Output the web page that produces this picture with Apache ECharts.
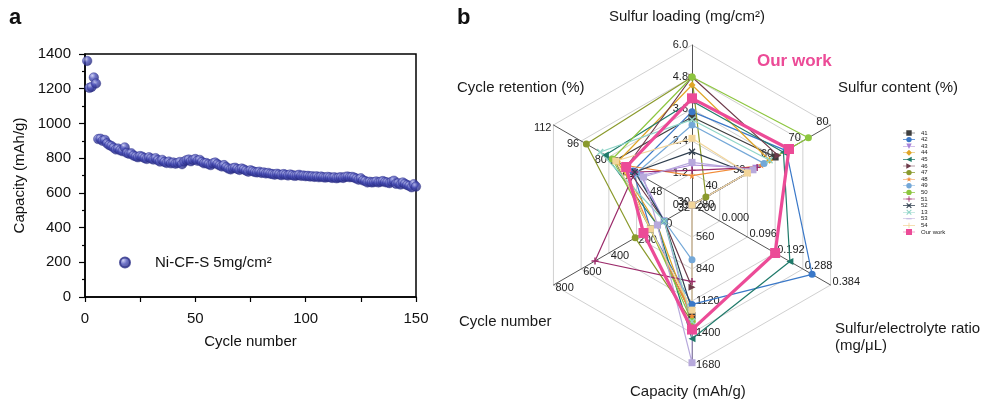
<!DOCTYPE html>
<html>
<head>
<meta charset="utf-8">
<script src="https://cdn.jsdelivr.net/npm/echarts@6/dist/echarts.min.js"></script>
<style>
html,body{margin:0;padding:0;background:#fff;}
#chart{width:1000px;height:407px;}
</style>
</head>
<body>
<div id="chart"></div>
<script>
// ---------- Panel a: capacity vs cycle ----------
const capacityValues = [
  1360,1205,1210,1265,1230,
  910,912,900,905,885,
  875,870,860,850,855,
  845,840,862,830,825,
  828,815,810,805,812,
  808,800,795,805,798,
  792,800,788,780,790,
  778,772,780,770,775,
  768,772,778,765,780,
  788,792,782,790,795,
  785,790,778,770,772,
  765,760,770,775,765,
  758,752,760,748,740,
  735,742,745,738,732,
  740,735,728,722,730,
  725,720,718,722,715,
  718,712,715,710,708,
  705,710,706,702,708,
  704,700,706,702,698,
  700,704,698,700,696,
  698,694,696,692,695,
  690,694,690,688,692,
  690,686,690,684,688,
  690,686,692,694,690,
  692,688,682,676,684,
  672,668,660,664,660,
  662,666,660,664,668,
  662,660,656,664,670,
  652,656,648,660,652,
  645,640,632,650,636
];
const xTicks = [0, 50, 100, 150];
const yTicks = [0, 200, 400, 600, 800, 1000, 1200, 1400];
const scatterName = 'Ni-CF-S 5mg/cm²';

// ---------- Panel b: radar ----------
const seriesNames = ['41','42','43','44','45','46','47','48','49','50','51','52','13','53','54','Our work'];
const loading   = [3.3, 3.5, 1.5, 4.5, 3.9, 4.8, 4.8, 1.1, 3.0, 4.8, 1.3, 2.0, 3.2, 1.6, 2.5, 4.0];
const content   = [60, 64, 53, 58, 63, 61, 35, 55, 56, 72, 53.5, 50, 58, 52, 50, 65];
const ratio     = [null, 0.32, null, null, 0.243, null, null, null, null, null, null, null, null, null, null, 0.192];
const capacity  = [1250, 1150, 1350, 1280, 1450, 1000, 1300, 1250, 760, 1300, 950, 1200, 1300, 1660, 1200, 1370];
const cycles    = [100, 100, 0, 50, 50, 0, 210, 100, 0, 100, 500, 0, 0, 50, 100, 150];
const retention = [76.5, 66, 61.5, 75, 82, 70, 93, 72, 64, 78, 65, 65, 85, 60, 76, 70];
const seriesColors = ['#3d3d3d','#3a78c8','#a883d8','#e0a526','#1f7a6a','#6e3b4a','#8a9a2c','#f28c38',
                      '#74a8d8','#8dc63f','#9b2a6a','#2f3e4e','#8fd5c8','#b7a9dc','#f2d59a','#ec4b97'];
const seriesSymbols = [
  'rect','circle','path://M0,0 L10,0 L5,10 Z','diamond','path://M10,0 L10,10 L0,5 Z','path://M0,0 L10,5 L0,10 Z',
  'circle','path://M5,0 L6.2,3.6 L10,3.6 L7,5.9 L8.1,9.5 L5,7.3 L1.9,9.5 L3,5.9 L0,3.6 L3.8,3.6 Z',
  'circle','circle','path://M4,0 H6 V4 H10 V6 H6 V10 H4 V6 H0 V4 H4 Z',
  'path://M1.4,0 L5,3.6 L8.6,0 L10,1.4 L6.4,5 L10,8.6 L8.6,10 L5,6.4 L1.4,10 L0,8.6 L3.6,5 L0,1.4 Z',
  'path://M1.4,0 L5,3.6 L8.6,0 L10,1.4 L6.4,5 L10,8.6 L8.6,10 L5,6.4 L1.4,10 L0,8.6 L3.6,5 L0,1.4 Z',
  'path://M0,4 H10 V6 H0 Z','path://M4,0 H6 V10 H4 Z','rect'
];
// legend icons: a short line with the marker in its middle
const legendMarks = [
  'M5.5,0.5 H14.5 V9.5 H5.5 Z',
  'M14.5,5 A4.5,4.5 0 1 1 5.5,5 A4.5,4.5 0 1 1 14.5,5 Z',
  'M5.5,0.5 H14.5 L10,9.5 Z',
  'M10,0 L15,5 L10,10 L5,5 Z',
  'M14.5,0.5 V9.5 L5.5,5 Z',
  'M5.5,0.5 L14.5,5 L5.5,9.5 Z',
  'M14.5,5 A4.5,4.5 0 1 1 5.5,5 A4.5,4.5 0 1 1 14.5,5 Z',
  'M10,0.5 L11.08,3.74 L14.5,3.74 L11.8,5.81 L12.79,9.05 L10,7.07 L7.21,9.05 L8.2,5.81 L5.5,3.74 L8.92,3.74 Z',
  'M14.5,5 A4.5,4.5 0 1 1 5.5,5 A4.5,4.5 0 1 1 14.5,5 Z',
  'M14.5,5 A4.5,4.5 0 1 1 5.5,5 A4.5,4.5 0 1 1 14.5,5 Z',
  'M9.3,0.5 H10.7 V4.3 H14.5 V5.7 H10.7 V9.5 H9.3 V5.7 H5.5 V4.3 H9.3 Z',
  'M6.76,0.5 L10,3.74 L13.24,0.5 L14.5,1.76 L11.26,5 L14.5,8.24 L13.24,9.5 L10,6.26 L6.76,9.5 L5.5,8.24 L8.74,5 L5.5,1.76 Z',
  'M6.76,0.5 L10,3.74 L13.24,0.5 L14.5,1.76 L11.26,5 L14.5,8.24 L13.24,9.5 L10,6.26 L6.76,9.5 L5.5,8.24 L8.74,5 L5.5,1.76 Z',
  'M5.5,4.1 H14.5 V5.9 H5.5 Z',
  'M9.3,0.5 H10.7 V9.5 H9.3 Z',
  'M5,0 H15 V10 H5 Z'
];
const legendFrame = 'M0,0 L0.01,0 L0,0.01 Z M20,10 L19.99,10 L20,9.99 Z ';

// indicator definitions (ECharts places them counter-clockwise from the top)
const indicatorNames = ['Sulfur loading (mg/cm²)','Cycle retention (%)','Cycle number','Capacity (mAh/g)','Sulfur/electrolyte ratio (mg/μL)','Sulfur content (%)'];
const indicatorMin = [0, 32, -200, 280, -0.096, 30];
const indicatorMax = [6, 112, 800, 1680, 0.384, 80];
const indicatorDecimals = [1, 0, 0, 0, 3, 0];

const FONT = 'Liberation Sans, Arial, sans-serif';
const chart = echarts.init(document.getElementById('chart'));

const sphere = new echarts.graphic.RadialGradient(0.35, 0.32, 0.7, [
  {offset: 0, color: '#c3c6f2'},
  {offset: 0.45, color: '#4a50b8'},
  {offset: 1, color: '#23277a'}
]);

const radarSeries = seriesNames.map((name, i) => {
  const isOur = name === 'Our work';
  return {
    type: 'radar',
    name: name,
    radarIndex: 0,
    z: isOur ? 5 : 3,
    symbol: seriesSymbols[i],
    symbolSize: isOur ? 10 : 7,
    lineStyle: {color: seriesColors[i], width: isOur ? 3.2 : 1.2},
    itemStyle: {color: seriesColors[i]},
    emphasis: {disabled: true},
    data: [{
      name: name,
      value: [loading[i], retention[i], cycles[i], capacity[i], ratio[i], content[i]]
    }]
  };
});

const nameStyle = {fontSize: 15, fontWeight: 'normal', color: '#1a1a1a', fontFamily: FONT};

const option = {
  animation: false,
  backgroundColor: '#fff',
  textStyle: {fontFamily: FONT},
  title: [
    {text: 'a', left: 9, top: 7, padding: 0, textStyle: {fontSize: 22, fontWeight: 'bold', color: '#111', fontFamily: FONT}},
    {text: 'b', left: 457, top: 7, padding: 0, textStyle: {fontSize: 22, fontWeight: 'bold', color: '#111', fontFamily: FONT}},
    {text: 'Our work', left: 757, top: 53, padding: 0, textStyle: {fontSize: 17, fontWeight: 'bold', color: '#ec4b97', fontFamily: FONT}},
    {text: 'Sulfur loading (mg/cm²)', left: 609, top: 9, padding: 0, textStyle: nameStyle},
    {text: 'Sulfur content (%)', left: 838, top: 80, padding: 0, textStyle: nameStyle},
    {text: 'Sulfur/electrolyte ratio\n(mg/μL)', left: 835, top: 320, padding: 0, textStyle: Object.assign({lineHeight: 17}, nameStyle)},
    {text: 'Capacity (mAh/g)', left: 630, top: 384, padding: 0, textStyle: nameStyle},
    {text: 'Cycle number', left: 459, top: 314, padding: 0, textStyle: nameStyle},
    {text: 'Cycle retention (%)', left: 457, top: 80, padding: 0, textStyle: nameStyle}
  ],
  legend: [
    {
      data: [scatterName],
      left: 114, top: 250,
      itemWidth: 40, itemHeight: 10,
      icon: 'circle',
      textStyle: {fontSize: 15, color: '#111', fontFamily: FONT, padding: [0, 0, 0, 5]},
      selectedMode: false
    },
    {
      data: seriesNames.map((n, i) => ({name: n, icon: 'path://' + legendFrame + 'M0,4.5 H20 V5.5 H0 Z ' + legendMarks[i]})),
      orient: 'vertical',
      left: 903, top: 130,
      itemWidth: 14, itemHeight: 6,
      itemGap: 0.6,
      padding: 0,
      textStyle: {fontSize: 6, lineHeight: 6, color: '#222', fontFamily: FONT},
      selectedMode: false
    }
  ],
  grid: {left: 85, top: 54, width: 331, height: 243, show: true, borderColor: '#000', borderWidth: 1.5},
  xAxis: {
    type: 'value', min: 0, max: 150, interval: 50,
    name: 'Cycle number', nameLocation: 'middle', nameGap: 37,
    nameTextStyle: {fontSize: 15, color: '#111'},
    axisLine: {show: true, lineStyle: {color: '#000', width: 1.5}},
    axisTick: {show: true, length: 5, lineStyle: {color: '#000', width: 1.2}},
    minorTick: {show: true, splitNumber: 2, length: 5, lineStyle: {color: '#000', width: 1.2}},
    axisLabel: {fontSize: 15, color: '#111', margin: 14,
      formatter: v => xTicks.indexOf(v) >= 0 ? String(v) : ''},
    splitLine: {show: false}
  },
  yAxis: {
    type: 'value', min: 0, max: 1400, interval: 200,
    name: 'Capacity (mAh/g)', nameLocation: 'middle', nameGap: 58,
    nameTextStyle: {fontSize: 15, color: '#111'},
    axisLine: {show: true, lineStyle: {color: '#000', width: 1.5}},
    axisTick: {show: true, length: 6, lineStyle: {color: '#000', width: 1.2}},
    minorTick: {show: true, splitNumber: 2, length: 3, lineStyle: {color: '#000', width: 1.2}},
    axisLabel: {fontSize: 15, color: '#111', margin: 14,
      formatter: v => yTicks.indexOf(v) >= 0 ? String(v) : ''},
    splitLine: {show: false}
  },
  radar: {
    center: [692, 205],
    radius: 160,
    startAngle: 90,
    splitNumber: 5,
    shape: 'polygon',
    axisName: {show: false},
    axisLine: {lineStyle: {color: '#555', width: 1}},
    splitLine: {lineStyle: {color: '#d0d0d0', width: 1}},
    splitArea: {show: false},
    axisLabel: {show: true, fontSize: 11, color: '#222', fontFamily: FONT, margin: 4},
    indicator: indicatorNames.map((n, i) => ({
      name: n,
      min: indicatorMin[i],
      max: indicatorMax[i],
      axisLabel: {
        show: true,
        formatter: v => (indicatorDecimals[i] === 3 && v < -1e-9) ? '' : Number(v).toFixed(indicatorDecimals[i])
      }
    }))
  },
  series: [
    {
      type: 'scatter',
      name: scatterName,
      data: capacityValues.map((v, i) => [i + 1, v]),
      symbolSize: 9.5,
      itemStyle: {color: sphere, borderColor: '#2a2e86', borderWidth: 0.5},
      emphasis: {disabled: true}
    }
  ].concat(radarSeries)
};
chart.setOption(option);
</script>
</body>
</html>
